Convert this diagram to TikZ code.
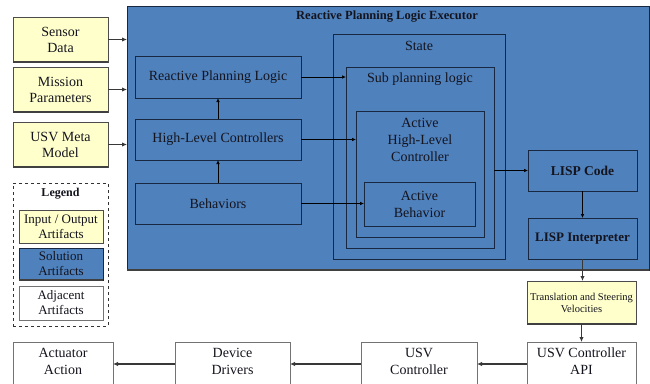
\documentclass[tikz,border=0pt]{standalone}
\usepackage{fontspec}
\setmainfont{Liberation Serif}
\usetikzlibrary{arrows.meta}
\definecolor{solblue}{RGB}{79,129,189}
\definecolor{ioyel}{RGB}{255,255,204}
\definecolor{navy}{RGB}{25,40,65}
\definecolor{txt}{RGB}{20,20,30}
\begin{document}
\begin{tikzpicture}[x=1pt,y=-1pt,
 every node/.style={text=txt, align=center, inner sep=0pt, outer sep=0pt},
 inbox/.style={draw=navy, line width=0.8pt, fill=solblue, font=\fontsize{14}{17}\selectfont},
 iobox/.style={draw=black!70, line width=0.6pt, fill=ioyel, font=\fontsize{14}{16}\selectfont},
 adjbox/.style={draw=black!55, line width=0.9pt, fill=white, font=\fontsize{14}{17}\selectfont},
 lab/.style={font=\fontsize{14}{17}\selectfont},
 leg/.style={font=\fontsize{13}{15}\selectfont},
 conn/.style={-{Latex[length=4pt,width=3.5pt]}, line width=0.7pt, draw=black},
 ext/.style={-{Latex[length=5pt,width=4.5pt]}, line width=1.5pt, draw=black!78},
 shadowline/.style={line width=1.8pt, draw=black!75},
]
\useasboundingbox (0,0) rectangle (650,383);
\clip (0,0) rectangle (650,383);

% big solution area
\node[draw=navy, line width=0.8pt, fill=solblue, minimum width=522pt, minimum height=264pt] (blue) at (388,138) {};
\draw[shadowline] (blue.south west) -- (blue.south east);
\node[font=\bfseries\fontsize{12.5}{14}\selectfont] (title) at (387,17) {Reactive Planning Logic Executor};

% input boxes
\node[iobox, minimum width=95pt, minimum height=45pt] (sensor) at (60.5,39.5) {Sensor\\Data};
\node[iobox, minimum width=95pt, minimum height=45pt] (mission) at (60.5,89.5) {Mission\\Parameters};
\node[iobox, minimum width=95pt, minimum height=45pt] (meta) at (60.5,144.5) {USV Meta\\Model};
\draw[shadowline] (sensor.south west) -- (sensor.south east);
\draw[shadowline] (mission.south west) -- (mission.south east);
\draw[shadowline] (meta.south west) -- (meta.south east);

% left column
\node[inbox, minimum width=166pt, minimum height=42pt] (rpl) at (218,77) {Reactive Planning Logic};
\node[inbox, minimum width=166pt, minimum height=41pt] (hlc) at (218,139.5) {High-Level Controllers};
\node[inbox, minimum width=166pt, minimum height=41pt] (beh) at (218,203.5) {Behaviors};

% state nesting
\node[inbox, minimum width=172pt, minimum height=225pt] (state) at (419,146.5) {};
\node[lab] (statet) at (419,46) {State};
\node[inbox, minimum width=148pt, minimum height=181pt] (sub) at (420,157.5) {};
\node[lab] (subt) at (420,79) {Sub planning logic};
\node[inbox, minimum width=128pt, minimum height=126pt] (ahlc) at (420,174) {};
\node[lab] (ahlct) at (420,140) {Active\\High-Level\\Controller};
\node[inbox, minimum width=111pt, minimum height=44pt] (ab) at (419.5,204) {Active\\Behavior};

% LISP
\node[inbox, font=\bfseries\fontsize{13.5}{16}\selectfont, minimum width=109pt, minimum height=41pt] (lisp) at (582.5,170.5) {LISP Code};
\node[inbox, font=\bfseries\fontsize{13}{16}\selectfont, minimum width=109pt, minimum height=41pt] (lint) at (582.5,238.5) {LISP Interpreter};

% translation
\node[iobox, font=\fontsize{10.5}{12}\selectfont, minimum width=109pt, minimum height=43pt] (trans) at (581.5,302.5) {Translation and Steering\\Velocities};
\draw[shadowline] (trans.south west) -- (trans.south east);

% bottom row
\node[adjbox, minimum width=109pt, minimum height=44pt] (api) at (581.5,364) {};
\node[lab] (apit) at (581.5,361.5) {USV Controller\\API};
\node[adjbox, minimum width=116pt, minimum height=44pt] (usvc) at (419,364) {};
\node[lab] (usvct) at (419,361.5) {USV\\Controller};
\node[adjbox, minimum width=115pt, minimum height=44pt] (dd) at (232.5,364) {};
\node[lab] (ddt) at (232.5,361.5) {Device\\Drivers};
\node[adjbox, minimum width=100pt, minimum height=44pt] (aa) at (63,364) {};
\node[lab] (aat) at (63,361.5) {Actuator\\Action};

% legend
\node[draw=black!80, line width=1pt, dashed, fill=white, minimum width=95pt, minimum height=143pt] (legend) at (60.5,254.5) {};
\node[font=\bfseries\fontsize{12}{14}\selectfont] (legt) at (60.5,194) {Legend};
\node[iobox, leg, line width=0.6pt, minimum width=84pt, minimum height=33pt] (lio) at (61,226.5) {Input / Output\\Artifacts};
\node[inbox, leg, minimum width=84pt, minimum height=32pt] (lsol) at (61,264) {Solution\\Artifacts};
\draw[shadowline] (lsol.south west) -- (lsol.south east);
\node[adjbox, leg, minimum width=84pt, minimum height=34pt] (ladj) at (61,303) {Adjacent\\Artifacts};

% connectors
\draw[ext] (sensor.east) -- (sensor.east -| blue.west);
\draw[ext] (mission.east) -- (mission.east -| blue.west);
\draw[ext] (meta.east) -- (meta.east -| blue.west);
\draw[conn] (beh.north) -- (hlc.south);
\draw[conn] (hlc.north) -- (rpl.south);
\draw[conn] (rpl.east) -- (rpl.east -| sub.west);
\draw[conn] (hlc.east) -- (hlc.east -| ahlc.west);
\draw[conn] (beh.east) -- (beh.east -| ab.west);
\draw[conn] (lisp.west -| sub.east) -- (lisp.west);
\draw[conn] (lisp.south) -- (lint.north);
\draw[ext] (lint.south) -- (lint.south |- trans.north);
\draw[ext] (trans.south) -- (api.north);
\draw[ext] (api.west) -- (usvc.east);
\draw[ext] (usvc.west) -- (dd.east);
\draw[ext] (dd.west) -- (aa.east);
\end{tikzpicture}
\end{document}
